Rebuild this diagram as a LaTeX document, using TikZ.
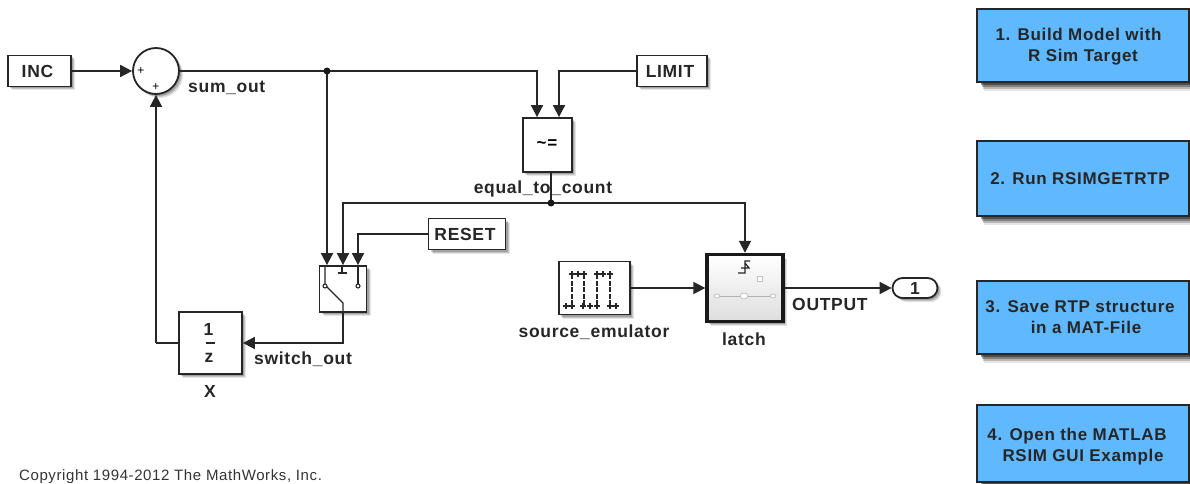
\documentclass[tikz,border=0pt]{standalone}
\usepackage{fontspec}
\setmainfont[LetterSpace=4]{Liberation Sans}
\usetikzlibrary{positioning,arrows.meta,calc,shadows}
\definecolor{stepblue}{RGB}{96,184,255}
\tikzset{
  lbl/.style={font=\fontsize{17.5}{20}\selectfont\bfseries,text=black!85,inner sep=0pt},
  softshadow/.style={
    drop shadow={shadow xshift=4pt,shadow yshift=-4pt,fill=black,opacity=0.10},
    drop shadow={shadow xshift=3pt,shadow yshift=-3pt,fill=black,opacity=0.14},
    drop shadow={shadow xshift=2pt,shadow yshift=-2pt,fill=black,opacity=0.18}},
  blk/.style={draw=black!85,line width=1.8pt,fill=white,inner sep=0pt,softshadow},
  stepbox/.style={draw=black!85,line width=1.6pt,fill=stepblue,inner sep=0pt,align=center,
    minimum width=212pt,font=\fontsize{17}{21}\selectfont\bfseries,text=black!85,
    drop shadow={shadow xshift=7pt,shadow yshift=-9pt,fill=black,opacity=0.10},
    drop shadow={shadow xshift=6pt,shadow yshift=-7pt,fill=black,opacity=0.20},
    drop shadow={shadow xshift=5pt,shadow yshift=-5pt,fill=black,opacity=0.30},
    drop shadow={shadow xshift=4pt,shadow yshift=-3pt,fill=black,opacity=0.40}},
  sig/.style={line width=1.8pt,draw=black!85},
  arr/.style={sig,-{Triangle[length=12pt,width=12pt]}},
  icon/.style={line width=1.1pt,draw=black!85}
}
\begin{document}
\begin{tikzpicture}[x=1pt,y=-1pt]
\useasboundingbox (0,0) rectangle (1190,484);
% blocks
\node[blk,lbl,minimum width=63pt,minimum height=31pt] (inc) at (39.5,71) {INC\hspace*{4pt}};
\node[blk,circle,minimum size=46pt] (sum) at (156,71) {};
\node[blk,lbl,minimum width=70pt,minimum height=31pt] (limit) at (672,71) {LIMIT\hspace*{4pt}};
\node[blk,minimum width=49pt,minimum height=54pt] (equal) at (547.5,145) {};
\node[blk,lbl,minimum width=77pt,minimum height=31pt] (reset) at (467,234) {RESET\hspace*{4pt}};
\node[blk,minimum width=47pt,minimum height=46pt] (switch) at (343,289) {};
\node[blk,minimum width=63pt,minimum height=62pt] (delay) at (210.5,343) {};
\node[blk,minimum width=71pt,minimum height=53pt] (source) at (594.5,288) {};
\node[draw=black!90,line width=3.4pt,inner sep=0pt,minimum width=76pt,minimum height=67pt,
  top color=white,bottom color=black!13,softshadow] (latch) at (745,288) {};
\node[blk,lbl,rounded corners=10pt,minimum width=45pt,minimum height=20pt] (out) at (915,288) {1};
% block labels
\node[lbl,anchor=west] (sumlbl) at (188,88) {sum\_out};
\node[lbl] (equallbl) at (543,189) {equal\_to\_count};
\node[lbl,anchor=west] (switchlbl) at (254,359) {switch\_out};
\node[lbl] (delaylbl) at (210,391) {X};
\node[lbl] (sourcelbl) at (594,332) {source\_emulator};
\node[lbl] (latchlbl) at (744,339) {latch};
\node[lbl,anchor=west] (outlbl) at (792,304) {OUTPUT};
% block contents
\node[font=\fontsize{12}{12}\selectfont,inner sep=0pt] (plusa) at (141,71) {+};
\node[font=\fontsize{12}{12}\selectfont,inner sep=0pt] (plusb) at (156,87) {+};
\node[font=\fontsize{17}{17}\selectfont\bfseries,inner sep=0pt] (noteq) at (547,144) {\textasciitilde=};
\node[lbl] (delaynum) at (208.5,329) {1};
\node[lbl] (delayden) at (209,358) {z};
\draw[line width=1.2pt,black!85] (205.5,343) -- (215,343);
% switch symbol
\draw[icon] (325,266) -- (325,285) -- (343,303) -- (343,312);
\draw[icon,fill=white] (325,286) circle (2pt);
\draw[icon] (358,266) -- (358,284);
\draw[icon,fill=white] (358,286) circle (2pt);
\draw[icon] (342,266) -- (342,273) (337.5,273) -- (346.5,273);
% pulse train of the source block
\foreach \xx in {572,584,597,610} {\draw[line width=1.2pt,black!85,dash pattern=on 5pt off 1.5pt] (\xx,274) -- (\xx,305);}
\foreach \xx in {572,578,584,597,603,610} {\draw[icon] (\xx-3,274) -- (\xx+3,274) (\xx,271) -- (\xx,277);}
\foreach \xx in {566,572,583,590,597,610,616} {\draw[icon] (\xx-3,306) -- (\xx+3,306) (\xx,303) -- (\xx,309);}
% latch symbol
\draw[line width=1.2pt,black!85] (738,273) -- (745,273) -- (745,261) -- (750,261)
  (741,268) -- (749,268) -- (745,263);
\draw[black!25,line width=0.8pt,fill=white] (757,276) rectangle (762,281);
\draw[black!30,line width=0.6pt] (717,296) -- (773,296);
\foreach \xx in {717,773} {\draw[black!30,line width=0.6pt,fill=white] (\xx,296) ellipse (3pt and 2pt);}
\draw[black!30,line width=0.6pt,fill=white] (744,296) ellipse (4pt and 3pt);
% signals
\draw[arr] (inc) -- (sum);
\draw[sig] (sum) -- (327,71) coordinate (branchsum);
\draw[arr] (branchsum) -| ([xshift=-10.5pt]equal.north);
\draw[arr] (limit) -| ([xshift=11.5pt]equal.north);
\draw[arr] (branchsum) -- (branchsum |- switch.north);
\draw[sig] ([xshift=3.5pt]equal.south) -- ([xshift=3.5pt]equal.south |- 0,203) coordinate (brancheq);
\draw[arr] (brancheq) -| (switch.north);
\draw[arr] (brancheq) -| (latch.north);
\draw[arr] (reset) -| ([xshift=15pt]switch.north);
\draw[arr] (switch.south) |- (delay.east);
\draw[sig] (delay.west) -- (156,343) coordinate (turnup);
\draw[arr] (turnup) -- (sum.south);
\draw[arr] (source) -- (latch.west |- source);
\draw[arr] (latch.east |- out) -- (out);
\fill[black!90] (branchsum) circle (3.5pt);
\fill[black!90] (brancheq) circle (3.5pt);
% steps
\node[stepbox,minimum height=73pt] (stepa) at (1083,45.5) {\rule{0pt}{14pt}1. Build Model with\hspace*{9pt}\\R Sim Target};
\node[stepbox,minimum height=75pt] (stepb) at (1083,178.5) {2. Run RSIMGETRTP\hspace*{6pt}};
\node[stepbox,minimum height=73pt] (stepc) at (1083,317.5) {3. Save RTP structure\hspace*{6pt}\\\hspace*{6pt}in a MAT-File};
\node[stepbox,minimum height=77pt] (stepd) at (1083,443.5) {\rule{0pt}{18pt}4. Open the MATLAB\hspace*{12pt}\\RSIM GUI Example};
% copyright line
\node[anchor=base west,font=\fontsize{15}{16}\selectfont,text=black!80,inner sep=0pt] (copy) at (19,480) {Copyright 1994-2012 The MathWorks, Inc.};
\end{tikzpicture}
\end{document}
